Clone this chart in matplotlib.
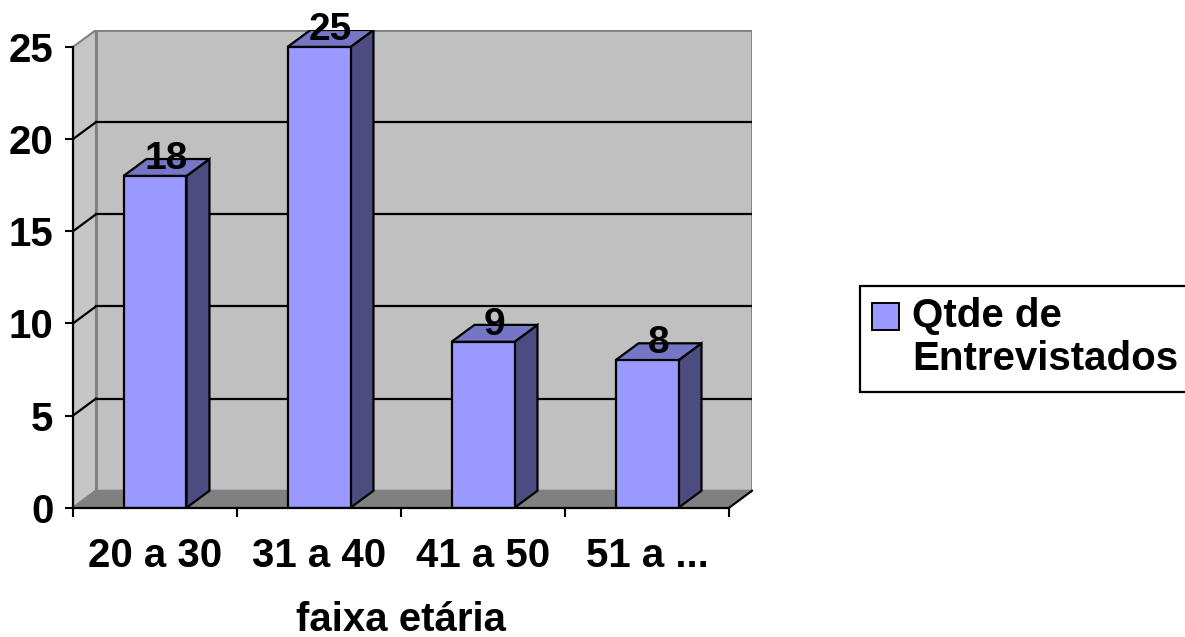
import matplotlib
matplotlib.use("Agg")
import matplotlib.pyplot as plt
from matplotlib.patches import Polygon, Rectangle
from matplotlib.transforms import Affine2D

plt.rcParams['font.family'] = ['Liberation Sans', 'DejaVu Sans']

categories = ["20 a 30", "31 a 40", "41 a 50", "51 a ..."]
values = [18, 25, 9, 8]
series_name = "Qtde de\nEntrevistados"
x_title = "faixa etária"
y_ticks = [0, 5, 10, 15, 20, 25]

W, H = 1185, 637
fig = plt.figure(figsize=(W / 100, H / 100), dpi=100)

# depth offsets (data units)
DX = 0.14
DY = 0.92
ymax = 25
ncat = len(categories)

left_px, right_px, bottom_px, top_px = 73, 752, 507.7, 30
ax = fig.add_axes([left_px / W, (H - bottom_px) / H,
                   (right_px - left_px) / W, (bottom_px - top_px) / H])
ax.set_xlim(0, ncat + DX)
ax.set_ylim(0, ymax + DY)

wall = "#C0C0C0"
floor = "#808080"
edge_gray = "#808080"

# back wall
ax.add_patch(Rectangle((DX, DY), ncat, ymax, facecolor=wall, edgecolor=edge_gray,
                       lw=2, zorder=0))
# left wall
ax.add_patch(Polygon([(0, 0), (DX, DY), (DX, ymax + DY), (0, ymax)], closed=True,
                     facecolor="#C6C6C6", edgecolor=edge_gray, lw=1.5, zorder=0.5))
# floor
ax.add_patch(Polygon([(0, 0), (ncat, 0), (ncat + DX, DY), (DX, DY)], closed=True,
                     facecolor=floor, edgecolor=edge_gray, lw=1.5, zorder=0.6))
ax.plot([ncat, ncat + DX], [0, DY], color="black", lw=1.5, zorder=0.7, clip_on=False)

# gridlines
for v in y_ticks[1:-1]:
    ax.plot([DX, ncat + DX], [v + DY, v + DY], color="black", lw=1.6, zorder=1)
    ax.plot([0, DX], [v, v + DY], color="black", lw=1.6, zorder=1)

# bars
bw = 0.384
front_c = "#9999FF"
side_c = "#4C4C80"
top_c = "#7676C6"
for i, v in enumerate(values):
    c = i + 0.5
    x0, x1 = c - bw / 2, c + bw / 2
    ax.add_patch(Polygon([(x1, 0), (x1 + DX, DY), (x1 + DX, v + DY), (x1, v)], closed=True,
                         facecolor=side_c, edgecolor="black", lw=1.6, zorder=3))
    ax.add_patch(Polygon([(x0, v), (x1, v), (x1 + DX, v + DY), (x0 + DX, v + DY)], closed=True,
                         facecolor=top_c, edgecolor="black", lw=1.6, zorder=3))
    ax.add_patch(Rectangle((x0, 0), bw, v, facecolor=front_c, edgecolor="black",
                           lw=1.6, zorder=3.5))
    ax.text(c + DX / 2, v + DY, str(v), ha="center", va="center", fontsize=28,
            fontweight="bold", zorder=5)

# axes
for s in ["top", "right"]:
    ax.spines[s].set_visible(False)
ax.spines["left"].set_bounds(0, ymax)
ax.spines["bottom"].set_bounds(0, ncat)
for s in ["left", "bottom"]:
    ax.spines[s].set_linewidth(1.6)
    ax.spines[s].set_zorder(6)
ax.patch.set_visible(False)

ax.set_yticks(y_ticks)
ax.set_yticklabels([str(t) for t in y_ticks], fontsize=29, fontweight="bold")
ax.tick_params(axis="y", direction="out", length=6, width=1.5, pad=8)

ax.set_xticks(range(ncat + 1))
ax.set_xticklabels([""] * (ncat + 1))
ax.set_xticks([i + 0.5 for i in range(ncat)], minor=True)
ax.set_xticklabels(categories, minor=True, fontsize=29, fontweight="bold")
ax.tick_params(axis="x", which="major", direction="out", length=6.5, width=1.5)
ax.tick_params(axis="x", which="minor", length=0, pad=21)

ax.set_xlabel(x_title, fontsize=29, fontweight="bold", va="top")
ax.xaxis.set_label_coords(2 / (ncat + DX), -0.195)

# legend (drawn in figure pixel coordinates, top-left origin)
pix = Affine2D().scale(1 / W, -1 / H).translate(0, 1) + fig.transFigure
fig.patches.append(Rectangle((860, 286), 340, 106, transform=pix, facecolor="white",
                             edgecolor="black", lw=1.6, clip_on=False))
fig.patches.append(Rectangle((872, 303), 27, 27, transform=pix, facecolor=front_c,
                             edgecolor="black", lw=1.4))
fig.text(912, 297, series_name, transform=pix, fontsize=29, fontweight="bold",
         ha="left", va="top", linespacing=1.18)

fig.savefig("out.png", dpi=100)
